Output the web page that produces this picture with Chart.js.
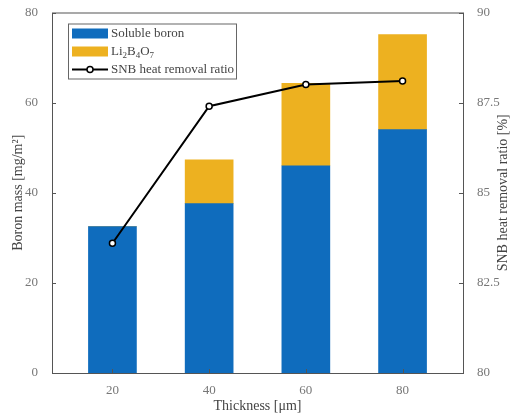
<!DOCTYPE html>
<html>
<head>
<meta charset="utf-8">
<script src="https://cdn.jsdelivr.net/npm/chart.js@4/dist/chart.umd.min.js"></script>
<style>
  html, body { margin: 0; padding: 0; background: #ffffff; }
  #wrap { width: 515px; height: 419px; }
</style>
</head>
<body>
<div id="wrap"><canvas id="boronChart" width="515" height="419"></canvas></div>
<script>
// Data
const thickness = [20, 40, 60, 80];
const solubleBoron = [32.5, 37.6, 46.0, 54.0];
const li2b4o7 = [0, 9.7, 18.3, 21.1];
const heatRemoval = [83.6, 87.4, 88.0, 88.1];
const xTicks = [20, 40, 60, 80];

const BLUE = '#0f6cbd';
const ORANGE = '#edb120';
const SERIF = '"Liberation Serif", "DejaVu Serif", serif';

function toPoints(values) {
    return thickness.map((x, i) => ({ x: x, y: values[i] }));
}

// Box around the axes, inward tick marks and the right axis title (reads upward)
const frame = {
    id: 'frame',
    afterDraw(chart) {
        const { ctx, chartArea: a, scales } = chart;
        ctx.save();
        ctx.strokeStyle = '#555';
        ctx.lineWidth = 1;
        ctx.strokeRect(a.left + 0.5, a.top + 0.5, a.right - a.left, a.bottom - a.top);
        ctx.beginPath();
        scales.y.ticks.forEach(t => {
            const py = Math.round(scales.y.getPixelForValue(t.value)) + 0.5;
            ctx.moveTo(a.left, py); ctx.lineTo(a.left + 4, py);
        });
        scales.y1.ticks.forEach(t => {
            const py = Math.round(scales.y1.getPixelForValue(t.value)) + 0.5;
            ctx.moveTo(a.right, py); ctx.lineTo(a.right - 4, py);
        });
        xTicks.forEach(v => {
            const px = Math.round(scales.x.getPixelForValue(v)) + 0.5;
            ctx.moveTo(px, a.bottom); ctx.lineTo(px, a.bottom - 4);
        });
        ctx.stroke();

        ctx.translate(503, (a.top + a.bottom) / 2);
        ctx.rotate(-Math.PI / 2);
        ctx.fillStyle = '#444';
        ctx.font = '14px ' + SERIF;
        ctx.textAlign = 'center';
        ctx.textBaseline = 'middle';
        ctx.fillText('SNB heat removal ratio [%]', 0, 0);
        ctx.restore();
    }
};

// Legend drawn inside the plot, top left
const insideLegend = {
    id: 'insideLegend',
    afterDraw(chart) {
        const { ctx, chartArea: a } = chart;
        const x0 = a.left + 16, y0 = a.top + 11, w = 168, h = 55;
        ctx.save();
        ctx.fillStyle = '#fff';
        ctx.fillRect(x0, y0, w, h);
        ctx.strokeStyle = '#666';
        ctx.lineWidth = 1;
        ctx.strokeRect(x0 + 0.5, y0 + 0.5, w, h);

        const sx = x0 + 4, sw = 36, tx = x0 + 43;
        const rows = [y0 + 10, y0 + 28, y0 + 46];
        ctx.fillStyle = BLUE;
        ctx.fillRect(sx, rows[0] - 5, sw, 10);
        ctx.fillStyle = ORANGE;
        ctx.fillRect(sx, rows[1] - 5, sw, 10);
        ctx.strokeStyle = '#000';
        ctx.lineWidth = 2;
        ctx.beginPath();
        ctx.moveTo(sx, rows[2]); ctx.lineTo(sx + sw, rows[2]);
        ctx.stroke();
        ctx.beginPath();
        ctx.arc(sx + sw / 2, rows[2], 3, 0, Math.PI * 2);
        ctx.fillStyle = '#fff';
        ctx.fill();
        ctx.lineWidth = 1.5;
        ctx.stroke();

        ctx.fillStyle = '#444';
        ctx.textBaseline = 'middle';
        ctx.textAlign = 'left';
        ctx.font = '13px ' + SERIF;
        ctx.fillText('Soluble boron', tx, rows[0]);
        ctx.fillText('SNB heat removal ratio', tx, rows[2]);
        // Li2B4O7 with subscripts
        let cx = tx;
        const parts = [['Li', false], ['2', true], ['B', false], ['4', true], ['O', false], ['7', true]];
        parts.forEach(([s, sub]) => {
            ctx.font = (sub ? '9px ' : '13px ') + SERIF;
            ctx.fillText(s, cx, rows[1] + (sub ? 4 : 0));
            cx += ctx.measureText(s).width;
        });
        ctx.restore();
    }
};

document.addEventListener('DOMContentLoaded', function() {
    const ctx = document.getElementById('boronChart').getContext('2d');
    const tickFont = { family: SERIF, size: 13, lineHeight: 1 };
    const titleFont = { family: SERIF, size: 14 };

    new Chart(ctx, {
        type: 'bar',
        data: {
            datasets: [
                {
                    type: 'line',
                    label: 'SNB heat removal ratio',
                    data: toPoints(heatRemoval),
                    yAxisID: 'y1',
                    borderColor: '#000',
                    borderWidth: 2,
                    pointRadius: 3,
                    pointBorderWidth: 1.5,
                    pointBackgroundColor: '#fff',
                    pointBorderColor: '#000',
                    order: 0
                },
                {
                    label: 'Soluble boron',
                    data: toPoints(solubleBoron),
                    backgroundColor: BLUE,
                    barThickness: 48,
                    yAxisID: 'y',
                    order: 1
                },
                {
                    label: 'Li2B4O7',
                    data: toPoints(li2b4o7),
                    backgroundColor: ORANGE,
                    barThickness: 48,
                    yAxisID: 'y',
                    order: 1
                }
            ]
        },
        options: {
            responsive: false,
            animation: false,
            layout: { padding: { top: 11, left: 0, right: 0, bottom: 0 } },
            plugins: { legend: { display: false }, tooltip: { enabled: false } },
            scales: {
                x: {
                    type: 'linear',
                    stacked: true,
                    offset: false,
                    min: 7.5,
                    max: 92.5,
                    afterBuildTicks: s => { s.ticks = xTicks.map(v => ({ value: v })); },
                    grid: { display: false },
                    border: { display: false },
                    ticks: { font: tickFont, color: '#777', padding: 3 },
                    title: { display: true, text: 'Thickness [μm]', font: titleFont, color: '#444', padding: { top: 0 } },
                    afterFit: s => { s.height = 46; }
                },
                y: {
                    stacked: true,
                    position: 'left',
                    min: 0,
                    max: 80,
                    ticks: { stepSize: 20, font: tickFont, color: '#777', padding: 6 },
                    grid: { display: false },
                    border: { display: false },
                    title: { display: true, text: 'Boron mass [mg/m²]', font: titleFont, color: '#444', padding: { top: 10, bottom: 2 } },
                    afterFit: s => { s.width = 52; }
                },
                y1: {
                    position: 'right',
                    min: 80,
                    max: 90,
                    ticks: { stepSize: 2.5, font: tickFont, color: '#777', padding: 6 },
                    grid: { display: false },
                    border: { display: false },
                    afterFit: s => { s.width = 52; }
                }
            }
        },
        plugins: [frame, insideLegend]
    });
});
</script>
</body>
</html>
